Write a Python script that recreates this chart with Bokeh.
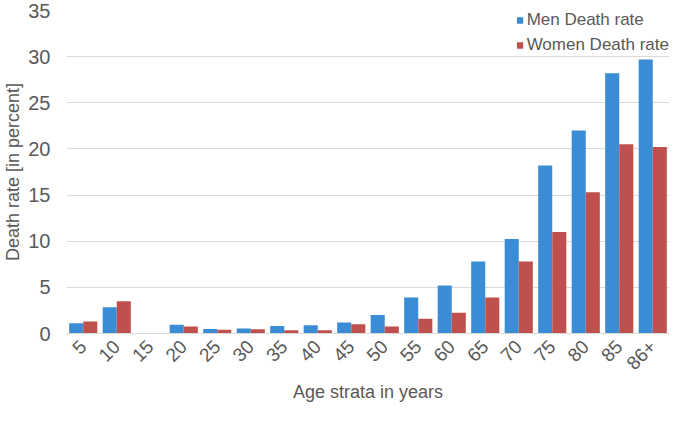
import math
from bokeh.plotting import figure
from bokeh.models import ColumnDataSource, Range1d, FactorRange, Legend
from bokeh.transform import dodge
from bokeh.embed import file_html
from bokeh.resources import INLINE

ages = ["5", "10", "15", "20", "25", "30", "35", "40", "45", "50",
        "55", "60", "65", "70", "75", "80", "85", "86+"]
men_rate = [1.1, 2.85, 0.0, 0.95, 0.5, 0.55, 0.8, 0.9, 1.2, 2.0,
            3.9, 5.2, 7.8, 10.25, 18.2, 22.0, 28.2, 29.7]
women_rate = [1.3, 3.5, 0.0, 0.77, 0.4, 0.45, 0.35, 0.35, 1.0, 0.75,
              1.6, 2.25, 3.9, 7.8, 11.0, 15.3, 20.5, 20.2]
y_ticks = [0, 5, 10, 15, 20, 25, 30, 35]
x_title = "Age strata in years"
y_title = "Death rate [in percent]"

BLUE = "#3A8DD4"
RED = "#C0504D"
TXT = "#595959"
FONT = "Liberation Sans"

source = ColumnDataSource(dict(age=ages, men=men_rate, women=women_rate))

p = figure(width=669, height=405, output_backend="svg", toolbar_location=None,
           x_range=FactorRange(factors=ages, range_padding=0),
           y_range=Range1d(0, 35),
           min_border_top=10, min_border_bottom=40, min_border_left=50,
           min_border_right=0)

r1 = p.vbar(x=dodge("age", -0.21, range=p.x_range), top="men", width=0.42,
            source=source, fill_color=BLUE, line_color=None)
r2 = p.vbar(x=dodge("age", 0.21, range=p.x_range), top="women", width=0.42,
            source=source, fill_color=RED, line_color=None)

legend = Legend(items=[("Men Death rate", [r1]), ("Women Death rate", [r2])],
                location="top_right")
legend.background_fill_alpha = 0
legend.border_line_color = None
legend.label_text_font = FONT
legend.label_text_font_size = "17px"
legend.label_text_color = TXT
legend.label_height = 20
legend.glyph_width = 8
legend.glyph_height = 8
legend.label_standoff = 3
legend.spacing = 5
legend.padding = 0
legend.margin = 0
p.add_layout(legend, "center")

p.outline_line_color = None
p.xgrid.grid_line_color = None
p.ygrid.grid_line_color = "#D9D9D9"
p.ygrid.grid_line_width = 1

p.yaxis.ticker = y_ticks
p.yaxis.axis_line_color = None
p.yaxis.major_tick_line_color = None
p.yaxis.minor_tick_line_color = None
p.yaxis.major_label_text_font = FONT
p.yaxis.major_label_text_font_size = "20px"
p.yaxis.major_label_text_color = TXT
p.yaxis.major_label_standoff = 10
p.yaxis.axis_label = y_title
p.yaxis.axis_label_text_font = FONT
p.yaxis.axis_label_text_font_size = "18px"
p.yaxis.axis_label_text_font_style = "normal"
p.yaxis.axis_label_text_color = TXT
p.yaxis.axis_label_standoff = 2

p.xaxis.axis_line_color = "#D9D9D9"
p.xaxis.major_tick_line_color = None
p.xaxis.minor_tick_line_color = None
p.xaxis.major_label_orientation = math.pi / 4
p.xaxis.major_label_text_font = FONT
p.xaxis.major_label_text_font_size = "19px"
p.xaxis.major_label_text_color = TXT
p.xaxis.major_label_standoff = 4
p.xaxis.axis_label = x_title
p.xaxis.axis_label_text_font = FONT
p.xaxis.axis_label_text_font_size = "18px"
p.xaxis.axis_label_text_font_style = "normal"
p.xaxis.axis_label_text_color = TXT
p.xaxis.axis_label_standoff = 4

open("out.html", "w").write(file_html(p, INLINE))
